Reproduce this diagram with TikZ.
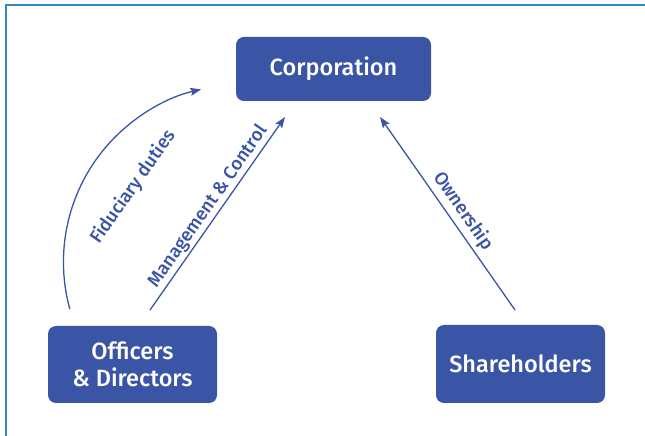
\documentclass[tikz,border=0pt]{standalone}
\usepackage{fontspec}
\setmainfont{Fira Sans}
\newfontfamily\boxfont{Fira Sans Medium}
\usetikzlibrary{arrows.meta}
\definecolor{boxblue}{HTML}{3A55A5}
\definecolor{lineblue}{HTML}{3A55A5}
\definecolor{frameblue}{HTML}{2E8BC0}
\tikzset{
  box/.style={rectangle, rounded corners=8pt, fill=boxblue, text=white, inner sep=0pt,
    align=center, font=\boxfont\fontsize{23.5}{27}\selectfont},
  lbl/.style={text=lineblue, font=\boxfont\fontsize{18.5}{22}\selectfont, inner sep=2pt},
  conn/.style={draw=lineblue, line width=1.3pt, -{Stealth[length=11pt,width=8pt,inset=2pt]}},
  frame/.style={draw=frameblue, line width=1.2pt}
}
\begin{document}
\begin{tikzpicture}[x=1pt,y=1pt]
\useasboundingbox (0,0) rectangle (645,436);
% partial frame
\coordinate (ftl) at (6,431);
\coordinate (fbl) at (6,0);
\coordinate (ftr) at (645,431);
\draw[frame] (fbl) -- (ftl) -- (ftr);
% boxes
\node[box, minimum width=195pt, minimum height=64pt] (corp) at (333.5,367) {Corporation};
\node[box, minimum width=169pt, minimum height=77pt] (off) at (132.5,71.5) {Officers\\\& Directors};
\node[box, minimum width=169pt, minimum height=78pt] (sh) at (520.5,72) {Shareholders};
% connector ends
\coordinate (fs) at (69.8,127);
\coordinate (m1) at (150,126);
\coordinate (m2) at (285,319);
\coordinate (o1) at (515,126);
\coordinate (o2) at (380,319);
% connectors
\draw[conn] (fs) arc[start angle=195.4, end angle=102.8, radius=177];
\node[lbl, rotate=55] (fd) at (133,249) {Fiduciary duties};
\draw[conn] (m1) -- node[lbl, midway, sloped, above] (mc) {Management \& Control} (m2);
\draw[conn] (o1) -- node[lbl, pos=0.47, sloped, above, yshift=2pt] (ow) {Ownership} (o2);
\end{tikzpicture}
\end{document}
